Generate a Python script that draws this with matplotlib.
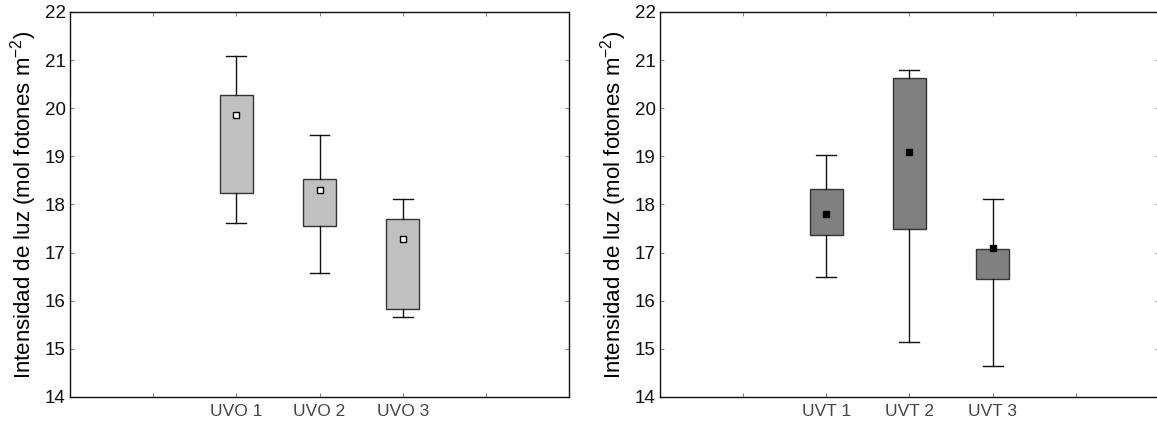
import matplotlib
matplotlib.use("Agg")
import matplotlib.pyplot as plt

plt.rcParams["font.family"] = ["Liberation Sans", "DejaVu Sans"]
plt.rcParams["mathtext.fontset"] = "custom"
plt.rcParams["mathtext.rm"] = "Liberation Sans"
plt.rcParams["mathtext.default"] = "regular"

# --- Data ---
uvo_labels = ["UVO 1", "UVO 2", "UVO 3"]
uvo_center = [19.86, 18.30, 17.29]
uvo_q1 = [18.24, 17.55, 15.83]
uvo_q3 = [20.28, 18.54, 17.69]
uvo_min = [17.62, 16.58, 15.66]
uvo_max = [21.08, 19.44, 18.11]

uvt_labels = ["UVT 1", "UVT 2", "UVT 3"]
uvt_center = [17.80, 19.10, 17.10]
uvt_q1 = [17.36, 17.50, 16.45]
uvt_q3 = [18.33, 20.62, 17.08]
uvt_min = [16.49, 15.15, 14.65]
uvt_max = [19.03, 20.79, 18.11]

ylabel = "Intensidad de luz (mol fotones m$^{-2}$)"


def draw_panel(ax, labels, center, q1, q3, lo, hi, fill, marker_face):
    stats = []
    for i in range(len(labels)):
        stats.append(dict(med=center[i], mean=center[i], q1=q1[i], q3=q3[i],
                          whislo=lo[i], whishi=hi[i], fliers=[], label=labels[i]))
    ax.bxp(stats, positions=[2, 3, 4], widths=0.4, capwidths=0.24,
           patch_artist=True, showmeans=True, showfliers=False,
           boxprops=dict(facecolor=fill, edgecolor="#333333", linewidth=1.0),
           whiskerprops=dict(color="#111111", linewidth=1.0),
           capprops=dict(color="#111111", linewidth=1.0),
           medianprops=dict(linewidth=0),
           meanprops=dict(marker="s", markersize=4.5, markerfacecolor=marker_face,
                          markeredgecolor="black", markeredgewidth=1.0))
    ax.set_xlim(0, 6)
    ax.set_ylim(14, 22)
    ax.set_xticks([1, 2, 3, 4, 5])
    ax.set_xticklabels([""] + labels + [""], fontsize=12.5, color="#444444")
    ax.set_yticks(range(14, 23))
    ax.tick_params(axis="y", labelsize=13.5, labelcolor="#111111", pad=3)
    ax.tick_params(direction="in", length=3, width=0.8, top=True, right=True,
                   color="#888888")
    ax.tick_params(axis="x", pad=5)
    ax.set_ylabel(ylabel, fontsize=16, labelpad=4)
    for sp in ax.spines.values():
        sp.set_linewidth(1.0)
        sp.set_color("#111111")


fig = plt.figure(figsize=(11.57, 4.25), dpi=100)
ax1 = fig.add_axes([0.0605, 0.0659, 0.4313, 0.9059])
ax2 = fig.add_axes([0.5704, 0.0659, 0.4313, 0.9059])

draw_panel(ax1, uvo_labels, uvo_center, uvo_q1, uvo_q3, uvo_min, uvo_max,
           "#c0c0c0", "white")
draw_panel(ax2, uvt_labels, uvt_center, uvt_q1, uvt_q3, uvt_min, uvt_max,
           "#808080", "black")

fig.savefig("out.png", dpi=100)
